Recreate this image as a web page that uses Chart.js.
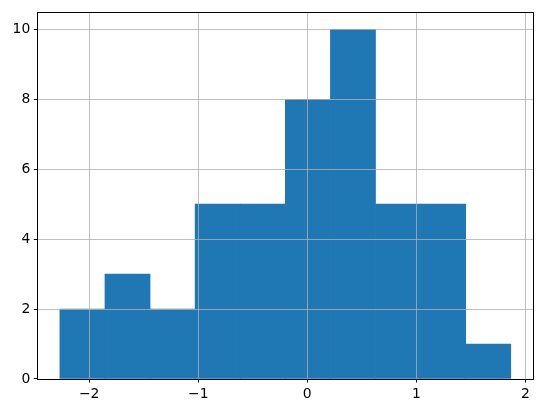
<!DOCTYPE html>
<html><head><meta charset="utf-8">
<script src="https://cdn.jsdelivr.net/npm/chart.js@4/dist/chart.umd.min.js"></script>
<style>html,body{margin:0;padding:0;background:#fff}#wrap{width:543px;height:413px}</style>
</head><body><div id="wrap"><canvas id="c" width="543" height="413"></canvas></div>
<script>
const binEdges = [-2.269, -1.855, -1.442, -1.028, -0.615, -0.201, 0.212, 0.626, 1.039, 1.453, 1.866];
const counts = [2, 3, 2, 5, 5, 8, 10, 5, 5, 1];
const xTicks = [-2, -1, 0, 1, 2];
const yTicks = [0, 2, 4, 6, 8, 10];

const pts = counts.map((c, i) => ({x: (binEdges[i] + binEdges[i + 1]) / 2, y: c}));
const span = binEdges[binEdges.length - 1] - binEdges[0];
const xMin = binEdges[0] - 0.05 * span, xMax = binEdges[binEdges.length - 1] + 0.05 * span;
const yMax = Math.max(...counts) * 1.05;
const fmt = v => (v < 0 ? '\u2212' + Math.abs(v) : String(v));

const frontGrid = {
  id: 'frontGrid',
  afterDatasetsDraw(chart) {
    const ctx = chart.ctx, a = chart.chartArea;
    ctx.save();
    ctx.strokeStyle = '#b0b0b0';
    ctx.lineWidth = 0.8;
    ctx.beginPath();
    chart.scales.x.ticks.forEach(t => {
      const px = Math.round(chart.scales.x.getPixelForValue(t.value)) + 0.5;
      ctx.moveTo(px, a.top); ctx.lineTo(px, a.bottom);
    });
    chart.scales.y.ticks.forEach(t => {
      const py = Math.round(chart.scales.y.getPixelForValue(t.value)) + 0.5;
      ctx.moveTo(a.left, py); ctx.lineTo(a.right, py);
    });
    ctx.stroke();
    ctx.strokeStyle = '#000';
    ctx.lineWidth = 1;
    ctx.strokeRect(Math.round(a.left) + 0.5, Math.round(a.top) + 0.5, Math.round(a.right - a.left), Math.round(a.bottom - a.top));
    ctx.restore();
  }
};

Chart.defaults.font.family = '"DejaVu Sans", sans-serif';
Chart.defaults.font.size = 13.9;
Chart.defaults.color = '#000';

new Chart(document.getElementById('c'), {
  type: 'bar',
  data: {datasets: [{data: pts, backgroundColor: '#1f77b4', borderWidth: 0, barPercentage: 1, categoryPercentage: 1}]},
  options: {
    responsive: false, animation: false, devicePixelRatio: 1,
    layout: {padding: {left: 0, right: 9.7, top: 10.3, bottom: 0}},
    plugins: {legend: {display: false}, tooltip: {enabled: false}},
    scales: {
      x: {
        type: 'linear', min: xMin, max: xMax, offset: false,
        afterFit: s => { s.height = 34; },
        afterBuildTicks: s => { s.ticks = xTicks.map(v => ({value: v})); },
        ticks: {callback: v => fmt(v), padding: 3.5, maxRotation: 0, autoSkip: false},
        grid: {display: true, drawOnChartArea: false, drawTicks: true, tickLength: 3.5, tickColor: '#000', offset: false},
        border: {display: false}
      },
      y: {
        type: 'linear', min: 0, max: yMax,
        afterFit: s => { s.width = 37.3; },
        afterBuildTicks: s => { s.ticks = yTicks.map(v => ({value: v})); },
        ticks: {callback: v => fmt(v), padding: 3.5, autoSkip: false},
        grid: {display: true, drawOnChartArea: false, drawTicks: true, tickLength: 3.5, tickColor: '#000'},
        border: {display: false}
      }
    }
  },
  plugins: [frontGrid]
});
</script></body></html>
